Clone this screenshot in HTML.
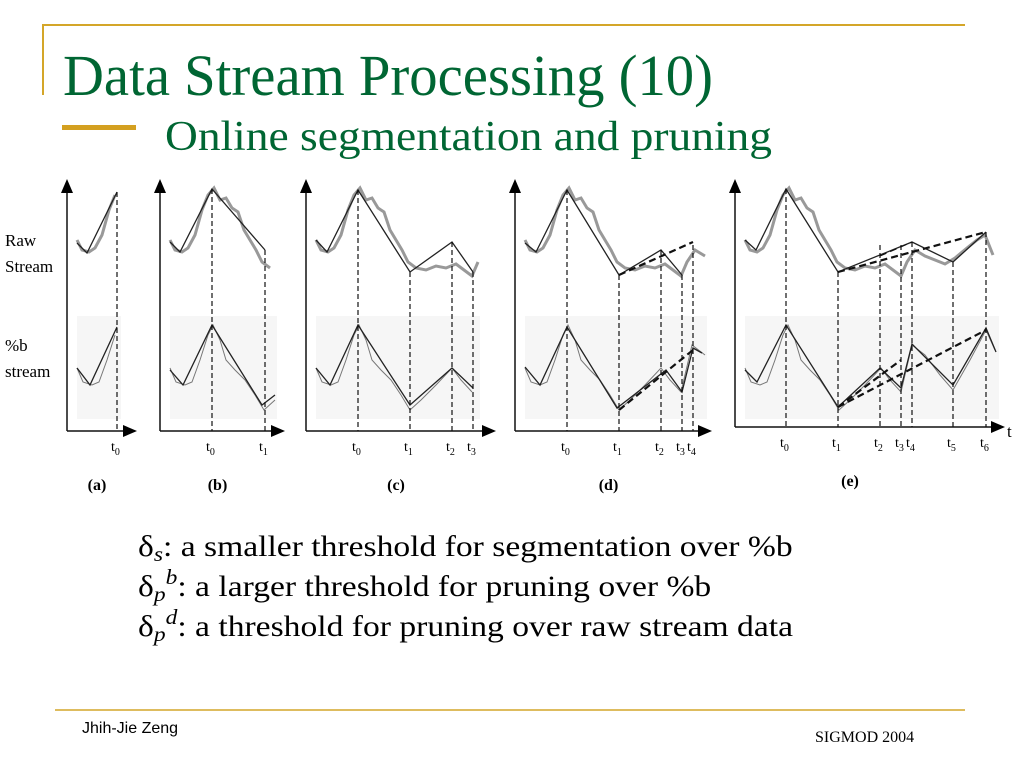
<!DOCTYPE html>
<html><head><meta charset="utf-8"><style>
html,body{margin:0;padding:0;background:#fff}
svg{display:block}
</style></head><body>
<svg id="s" width="1024" height="768" viewBox="0 0 1024 768" xmlns="http://www.w3.org/2000/svg">
<rect width="1024" height="768" fill="#fff"/>
<line x1="42" y1="25" x2="965" y2="25" stroke="#d4a629" stroke-width="2"/>
<line x1="43" y1="25" x2="43" y2="95" stroke="#d4a629" stroke-width="2"/>
<text x="63" y="95" font-family="Liberation Serif, serif" font-size="58" fill="#006633" textLength="650" lengthAdjust="spacingAndGlyphs">Data Stream Processing (10)</text>
<rect x="62" y="125" width="74" height="5" fill="#d4a020"/>
<text x="165" y="150" font-family="Liberation Serif, serif" font-size="42" fill="#006633" textLength="607" lengthAdjust="spacingAndGlyphs">Online segmentation and pruning</text>

<g id="fig"></g>

<text x="5" y="246" font-family="Liberation Serif, serif" font-size="17">Raw</text>
<text x="5" y="272" font-family="Liberation Serif, serif" font-size="17">Stream</text>
<text x="5" y="351" font-family="Liberation Serif, serif" font-size="17">%b</text>
<text x="5" y="377" font-family="Liberation Serif, serif" font-size="17">stream</text>

<g font-family="Liberation Serif, serif" font-size="30" fill="#000" transform="translate(138,0) scale(1.12,1) translate(-138,0)">
<text x="138" y="556">δ<tspan font-size="21" font-style="italic" dy="5">s</tspan><tspan dy="-5">: a smaller threshold for segmentation over %b</tspan></text>
<text x="138" y="596">δ<tspan font-size="21" font-style="italic" dy="5">p</tspan><tspan font-size="21" font-style="italic" dy="-17">b</tspan><tspan dy="12">: a larger threshold for pruning over %b</tspan></text>
<text x="138" y="636">δ<tspan font-size="21" font-style="italic" dy="5">p</tspan><tspan font-size="21" font-style="italic" dy="-17">d</tspan><tspan dy="12">: a threshold for pruning over raw stream data</tspan></text>
</g>

<line x1="55" y1="710" x2="965" y2="710" stroke="#d4a629" stroke-width="1.5"/>
<text x="82" y="733" font-family="Liberation Sans, sans-serif" font-size="16">Jhih-Jie Zeng</text>
<text x="815" y="742" font-family="Liberation Serif, serif" font-size="16">SIGMOD 2004</text>
</svg>
<script>
// Shared series (time offset from panel y-axis, value units)
const rawT = [10,15,22,28,35,42,48,54,60,66,72,78,84,90,96,102,110,120,130,140,150,158,166,172,180,190,200,210,220,232,242,250,258];
const rawV = [200,190,188,192,205,230,245,252,240,242,232,228,210,200,190,178,172,170,174,172,176,170,164,178,190,184,180,176,182,192,200,205,185];
const pbT = [10,16,25,32,40,48,53,60,66,75,85,95,104,115,130,146,155,166,177,190,205,218,235,251,260];
const pbV = [72,58,55,58,80,105,115,100,80,70,60,45,30,40,55,72,60,48,95,85,65,50,80,110,90];

const panelNames = ['a','b','c','d','e'];
const panelAxisX = [67,160,306,515,735];
const panelEndT = [52,115,172,190,262];
const panelArrowT = [70,125,190,197,270];
const panelTicks = [[50],[52,105],[52,104,146,167],[52,104,146,167,178],[51,103,145,166,177,218,251]];
const tickLabels = [['0'],['0','1'],['0','1','2','3'],['0','1','2','3','4'],['0','1','2','3','4','5','6']];
const segRawT = [[10,20,50],[10,20,52,105],[10,21,52,104,146,167],[10,21,52,104,146,167],[10,21,51,103,177,218,251]];
const segRawV = [[197,187,248],[198,188,251,190],[200,188,250,168,198,168],[197,188,250,165,190,165],[200,190,251,168,198,178,208]];
const segPbT = [[10,23,50],[10,23,52,102,115],[10,24,52,104,146,167],[10,25,52,102,151,167,178,187],[10,22,51,103,145,166,177,218,251,261]];
const segPbV = [[72,55,113],[70,55,115,35,45],[72,55,115,35,72,52],[73,55,113,32,70,48,92,87],[70,58,115,33,72,52,96,55,112,88]];
const dashRawT = [[],[],[],[104,178],[103,251,145,177]];
const dashRawV = [[],[],[],[165,198],[168,208,184,198]];
const dashPbT = [[],[],[],[104,178],[103,251,103,166]];
const dashPbV = [[],[],[],[30,90],[33,110,33,80]];

const NS='http://www.w3.org/2000/svg';
const fig=document.getElementById('fig');
function mk(tag,attrs,parent){const e=document.createElementNS(NS,tag);for(const k in attrs)e.setAttribute(k,attrs[k]);(parent||fig).appendChild(e);return e;}
const xs=(p,t)=>panelAxisX[p]+t;
const rawY=v=>440-v;
const pbY=v=>440-v;
const baseY=p=>p===4?427:431;
function pts(p,T,V,fy){return T.map((t,i)=>xs(p,t)+','+fy(V[i])).join(' ');}

panelNames.forEach((nm,p)=>{
  const g=mk('g',{});
  
  
  const by=baseY(p);
  const sh=mk('rect',{x:xs(p,10),y:316,width:panelEndT[p]-8,height:103,fill:'#f6f6f6'},g);
  
  
  const rT=[],rV=[],bT=[],bV=[];
  rawT.forEach((t,i)=>{if(t<=panelEndT[p]){rT.push(t);rV.push(rawV[i]);}});
  pbT.forEach((t,i)=>{if(t<=panelEndT[p]){bT.push(t);bV.push(pbV[i]);}});
  const r=mk('polyline',{points:pts(p,rT,rV,rawY),fill:'none',stroke:'#999',"stroke-width":3},g);
  
  
  const b=mk('polyline',{points:pts(p,bT,bV,pbY),fill:'none',stroke:'#777',"stroke-width":1},g);
  
  
  const s1=mk('polyline',{points:pts(p,segRawT[p],segRawV[p],rawY),fill:'none',stroke:'#222',"stroke-width":1.3},g);
  
  
  const s2=mk('polyline',{points:pts(p,segPbT[p],segPbV[p],pbY),fill:'none',stroke:'#222',"stroke-width":1.3},g);
  
  
  for(let i=0;i<dashRawT[p].length;i+=2){
    const d=mk('line',{x1:xs(p,dashRawT[p][i]),y1:rawY(dashRawV[p][i]),x2:xs(p,dashRawT[p][i+1]),y2:rawY(dashRawV[p][i+1]),stroke:'#111',"stroke-width":i?1.2:2.2,"stroke-dasharray":'7,4'},g);
    
    
  }
  for(let i=0;i<dashPbT[p].length;i+=2){
    const d=mk('line',{x1:xs(p,dashPbT[p][i]),y1:pbY(dashPbV[p][i]),x2:xs(p,dashPbT[p][i+1]),y2:pbY(dashPbV[p][i+1]),stroke:'#111',"stroke-width":2.2,"stroke-dasharray":'7,4'},g);
    
    
  }
  panelTicks[p].forEach((t,i)=>{
    let top=Math.min(...segRawT[p].map((tt,j)=>tt===t?rawY(segRawV[p][j]):999));
    if(top===999)top=rawY(195);
    const v=mk('line',{x1:xs(p,t),y1:top,x2:xs(p,t),y2:by,stroke:'#111',"stroke-width":1.2,"stroke-dasharray":'5,3'},g);
    
    
    const tx=mk('text',{x:xs(p,t)-6,y:by+20,"font-family":'Liberation Serif, serif',"font-size":14},g);
    
    
    tx.textContent='t';
    const sb=mk('tspan',{"font-size":10,dy:4},tx);
    sb.textContent=tickLabels[p][i];
  });
  const ax=panelAxisX[p];
  const ya=mk('line',{x1:ax,y1:by,x2:ax,y2:192,stroke:'#111',"stroke-width":1.5},g);
  
  
  mk('polygon',{points:(ax-6)+',193 '+(ax+6)+',193 '+ax+',179',fill:'#000'},g);
  const xa=mk('line',{x1:ax,y1:by,x2:ax+panelArrowT[p]-8,y2:by,stroke:'#111',"stroke-width":1.5},g);
  
  
  const ae=ax+panelArrowT[p];
  mk('polygon',{points:(ae-14)+','+(by-6)+' '+(ae-14)+','+(by+6)+' '+ae+','+by,fill:'#000'},g);
  const lb=mk('text',{x:ax+panelArrowT[p]/2-(p===4?20:5),y:p===4?486:490,"font-family":'Liberation Serif, serif',"font-size":16,"font-weight":'bold',"text-anchor":'middle'},g);
  
  
  lb.textContent='('+nm+')';
});
const tl=mk('text',{x:1007,y:437,"font-family":'Liberation Serif, serif',"font-size":17});


tl.textContent='t';
</script>
</body></html>
